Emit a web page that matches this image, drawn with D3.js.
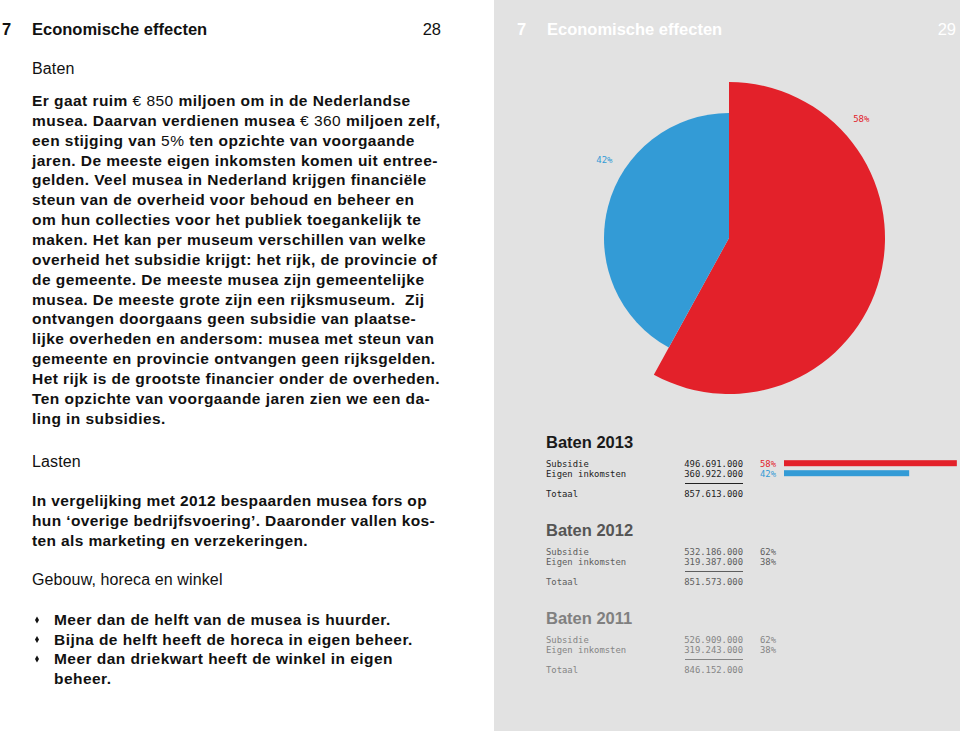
<!DOCTYPE html>
<html>
<head>
<meta charset="utf-8">
<script src="https://cdn.jsdelivr.net/npm/d3@7"></script>
<style>
  html, body { margin: 0; padding: 0; background: #fff; }
  svg { display: block; }
  .sans { font-family: "Liberation Sans", Arial, sans-serif; }
  .mono { font-family: "DejaVu Sans Mono", "Liberation Mono", monospace; }
</style>
</head>
<body>
<svg id="chart" width="960" height="731"></svg>
<script>
// ---------- data ----------
const categories = ["Subsidie", "Eigen inkomsten"];
const years = [2013, 2012, 2011];
const subsidie = [496691000, 532186000, 526909000];
const eigenInkomsten = [360922000, 319387000, 319243000];
const totaal = [857613000, 851573000, 846152000];
const pctSubsidie = [58, 62, 62];
const pctEigen = [42, 38, 38];
const pieValues = [58, 42];           // 2013: subsidie, eigen inkomsten
const pieLabels = ["58%", "42%"];

// body text of the left page ({...} marks regular-weight segments)
const chapter = "Economische effecten";
const pageLeft = "28", pageRight = "29", chapterNo = "7";
const para1 = [
  "Er gaat ruim {€ 850} miljoen om in de Nederlandse",
  "musea. Daarvan verdienen musea {€ 360} miljoen zelf,",
  "een stijging van {5%} ten opzichte van voorgaande",
  "jaren. De meeste eigen inkomsten komen uit entree-",
  "gelden. Veel musea in Nederland krijgen financiële",
  "steun van de overheid voor behoud en beheer en",
  "om hun collecties voor het publiek toegankelijk te",
  "maken. Het kan per museum verschillen van welke",
  "overheid het subsidie krijgt: het rijk, de provincie of",
  "de gemeente. De meeste musea zijn gemeentelijke",
  "musea. De meeste grote zijn een rijksmuseum.  Zij",
  "ontvangen doorgaans geen subsidie van plaatse-",
  "lijke overheden en andersom: musea met steun van",
  "gemeente en provincie ontvangen geen rijksgelden.",
  "Het rijk is de grootste financier onder de overheden.",
  "Ten opzichte van voorgaande jaren zien we een da-",
  "ling in subsidies."
];
const para2 = [
  "In vergelijking met 2012 bespaarden musea fors op",
  "hun ‘overige bedrijfsvoering’. Daaronder vallen kos-",
  "ten als marketing en verzekeringen."
];
const bullets = [
  "Meer dan de helft van de musea is huurder.",
  "Bijna de helft heeft de horeca in eigen beheer.",
  "Meer dan driekwart heeft de winkel in eigen",
  "beheer."
];

// ---------- setup ----------
const svg = d3.select("#chart");
const W = 960, H = 731, split = 494;
const RED = "#e3212a", BLUE = "#339bd6";

svg.append("rect").attr("x", 0).attr("y", 0).attr("width", split).attr("height", H).attr("fill", "#ffffff");
svg.append("rect").attr("x", split).attr("y", 0).attr("width", W - split).attr("height", H).attr("fill", "#e2e2e2");

// ---------- headers ----------
function header(x0, xEnd, page, color) {
  const g = svg.append("g").attr("class", "sans").attr("fill", color).style("font-size", "16.5px");
  g.append("text").attr("x", x0).attr("y", 35).attr("font-weight", "bold").text(chapterNo);
  g.append("text").attr("x", x0 + 30).attr("y", 35).attr("font-weight", "bold").text(chapter);
  g.append("text").attr("x", xEnd).attr("y", 35).attr("text-anchor", "end").text(page);
}
header(2, 441, pageLeft, "#111");
header(517, 956, pageRight, "#ffffff");

// ---------- left page text ----------
const left = svg.append("g").attr("class", "sans").attr("fill", "#111");
const LH = 19.85;
const bodyLS = "0.45px", headLS = "0.12px";
function richLine(sel, str) {
  const parts = str.split(/(\{[^}]*\})/).filter(s => s.length);
  parts.forEach(p => {
    const reg = p.startsWith("{");
    sel.append("tspan").attr("font-weight", reg ? "normal" : "bold").text(reg ? p.slice(1, -1) : p);
  });
}
function heading(y, s) {
  left.append("text").attr("x", 32).attr("y", y).style("font-size", "16px")
    .style("letter-spacing", headLS).text(s);
}
heading(74, "Baten");
para1.forEach((l, i) => {
  const t = left.append("text").attr("x", 32).attr("y", 106 + i * LH).style("font-size", "15.5px")
    .style("letter-spacing", bodyLS).attr("xml:space", "preserve");
  richLine(t, l);
});
heading(467, "Lasten");
para2.forEach((l, i) => {
  left.append("text").attr("x", 32).attr("y", 506 + i * LH).style("font-size", "15.5px")
    .style("letter-spacing", "0.38px").attr("font-weight", "bold").text(l);
});
heading(585, "Gebouw, horeca en winkel");
bullets.forEach((l, i) => {
  const y = 625 + i * 19.5;
  if (i < 3) {
    left.append("path")
      .attr("d", d3.symbol().type(d3.symbolDiamond).size(14)())
      .attr("transform", `translate(37,${y - 5})`).attr("fill", "#111");
  }
  left.append("text").attr("x", 54).attr("y", y).style("font-size", "15.5px")
    .style("letter-spacing", bodyLS).attr("font-weight", "bold").text(l);
});

// ---------- pie ----------
const cx = 729, cy = 238;
const radii = [156, 125];
const pie = d3.pie().sort(null).value(d => d)(pieValues);
const arc = d3.arc().innerRadius(0).outerRadius((d) => radii[d.index]);
const pg = svg.append("g").attr("transform", `translate(${cx},${cy})`);
pg.selectAll("path").data(pie).join("path")
  .attr("d", arc)
  .attr("fill", (d, i) => i === 0 ? RED : BLUE);
// labels placed at fixed angles outside the slices
const labelPos = [[48 * Math.PI / 180, 178], [302 * Math.PI / 180, 147]];
pg.selectAll("text").data(pie).join("text")
  .attr("class", "mono")
  .attr("transform", (d, i) => `translate(${d3.pointRadial(labelPos[i][0], labelPos[i][1])})`)
  .attr("text-anchor", "middle").attr("dy", "0.35em")
  .style("font-size", "9px")
  .attr("fill", (d, i) => i === 0 ? RED : BLUE)
  .text((d, i) => pieLabels[i]);

// ---------- tables ----------
const nl = d3.formatLocale({ decimal: ",", thousands: ".", grouping: [3], currency: ["€ ", ""] });
const fmt = nl.format(",d");
const tops = [448, 536, 624];
const headCol = ["#1a1a1a", "#555555", "#808080"];
const textCol = ["#222222", "#5e5e5e", "#858585"];
const xScale = d3.scaleLinear().domain([0, 100]).range([784, 784 + 298]);

years.forEach((yr, k) => {
  const g = svg.append("g");
  const y0 = tops[k];
  g.append("text").attr("class", "sans").attr("x", 546).attr("y", y0)
    .attr("font-weight", "bold").style("font-size", "16.5px").attr("fill", headCol[k])
    .text("Baten " + yr);
  const rows = [
    { label: categories[0], val: subsidie[k], pct: pctSubsidie[k], color: RED },
    { label: categories[1], val: eigenInkomsten[k], pct: pctEigen[k], color: BLUE }
  ];
  rows.forEach((r, j) => {
    const y = y0 + 18.5 + j * 10;
    g.append("text").attr("class", "mono").attr("x", 546).attr("y", y)
      .style("font-size", "8.9px").attr("fill", textCol[k]).text(r.label);
    g.append("text").attr("class", "mono").attr("x", 743).attr("y", y).attr("text-anchor", "end")
      .style("font-size", "8.9px").attr("fill", textCol[k]).text(fmt(r.val));
    g.append("text").attr("class", "mono").attr("x", 760).attr("y", y)
      .style("font-size", "8.9px").attr("fill", k === 0 ? r.color : textCol[k]).text(r.pct + "%");
    if (k === 0) {
      g.append("rect").attr("x", xScale(0)).attr("y", y - 6.3)
        .attr("width", xScale(r.pct) - xScale(0)).attr("height", 6).attr("fill", r.color);
    }
  });
  g.append("line").attr("x1", 685).attr("x2", 743).attr("y1", y0 + 35.5).attr("y2", y0 + 35.5)
    .attr("stroke", textCol[k]).attr("stroke-width", 1.2);
  g.append("text").attr("class", "mono").attr("x", 546).attr("y", y0 + 49)
    .style("font-size", "8.9px").attr("fill", textCol[k]).text("Totaal");
  g.append("text").attr("class", "mono").attr("x", 743).attr("y", y0 + 49).attr("text-anchor", "end")
    .style("font-size", "8.9px").attr("fill", textCol[k]).text(fmt(totaal[k]));
});
</script>
</body>
</html>
